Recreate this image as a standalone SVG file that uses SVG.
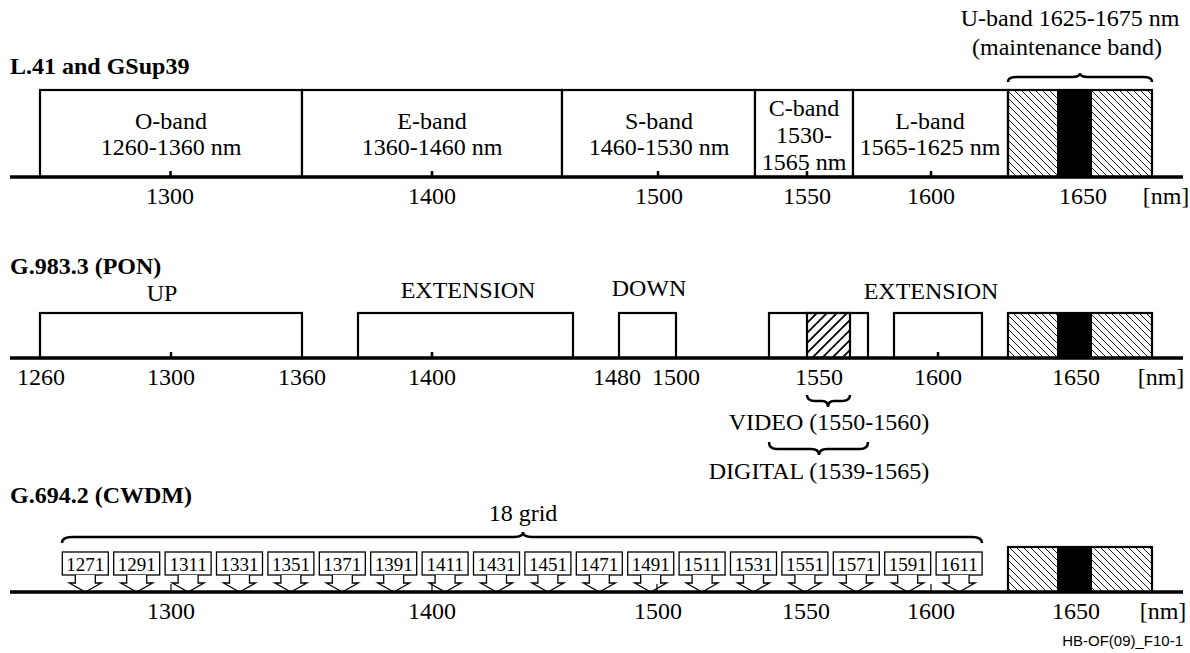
<svg xmlns="http://www.w3.org/2000/svg" width="1190" height="653" viewBox="0 0 1190 653">
<style>
.t{font-family:"Liberation Serif","Times New Roman",serif;font-size:24px;fill:#000;text-anchor:middle}
.b{font-family:"Liberation Serif","Times New Roman",serif;font-size:24px;font-weight:bold;fill:#000}
.s{font-family:"Liberation Serif","Times New Roman",serif;font-size:19px;fill:#000;text-anchor:middle}
.f{font-family:"Liberation Sans",Arial,sans-serif;font-size:15px;fill:#000;text-anchor:end}
.box{fill:#fff;stroke:#000;stroke-width:2.2}
.hu{fill:url(#hU);stroke:#000;stroke-width:2.2}
.hv{fill:url(#hV);stroke:#000;stroke-width:2.2}
.blk{fill:#000}
.ax{stroke:#000;stroke-width:3.5;fill:none}
.tk{stroke:#000;stroke-width:2.5}
.tk2{stroke:#000;stroke-width:1.2}
.br{fill:none;stroke:#000;stroke-width:2.5}
.cw{fill:#fff;stroke:#000;stroke-width:1.3}
</style>
<defs>
<pattern id="hU" patternUnits="userSpaceOnUse" width="7" height="7"><path d="M-1,-1 L8,8 M-1,6 L1,8 M6,-1 L8,1" stroke="#000" stroke-width="0.9"/></pattern>
<pattern id="hV" patternUnits="userSpaceOnUse" width="10" height="10"><path d="M-1,11 L11,-1 M-1,1 L1,-1 M9,11 L11,9" stroke="#000" stroke-width="1.8"/></pattern>
<path id="arr" class="cw" d="M-10,0 V8 H-16 L0,17 L16,8 H10 V0"/>
</defs>

<!-- Section 1 -->
<text class="b" x="10" y="74">L.41 and GSup39</text>
<g id="oband"><rect class="box" x="40" y="90" width="262" height="87"/><text class="t" x="171" y="129">O-band</text><text class="t" x="171" y="155">1260-1360 nm</text></g>
<g id="eband"><rect class="box" x="302" y="90" width="260" height="87"/><text class="t" x="432" y="129">E-band</text><text class="t" x="432" y="155">1360-1460 nm</text></g>
<g id="sband"><rect class="box" x="562" y="90" width="193" height="87"/><text class="t" x="659" y="129">S-band</text><text class="t" x="659" y="155">1460-1530 nm</text></g>
<g id="cband"><rect class="box" x="755" y="90" width="98" height="87"/><text class="t" x="804" y="116">C-band</text><text class="t" x="804" y="143">1530-</text><text class="t" x="804" y="170">1565 nm</text></g>
<g id="lband"><rect class="box" x="853" y="90" width="155" height="87"/><text class="t" x="930" y="129">L-band</text><text class="t" x="930" y="155">1565-1625 nm</text></g>
<g id="uband1"><rect class="hu" x="1008" y="90" width="144" height="87"/><rect class="blk" x="1057" y="90" width="35" height="87"/>
<text class="t" x="1070" y="26">U-band 1625-1675 nm</text><text class="t" x="1067" y="55">(maintenance band)</text></g>

<!-- Section 2 -->
<text class="b" x="10" y="274">G.983.3 (PON)</text>
<g id="up"><rect class="box" x="40" y="313" width="262" height="45"/><text class="t" x="162" y="301">UP</text></g>
<g id="ext1"><rect class="box" x="358" y="313" width="215" height="45"/><text class="t" x="468" y="298">EXTENSION</text></g>
<g id="down"><rect class="box" x="619" y="313" width="57" height="45"/><text class="t" x="649" y="296">DOWN</text></g>
<g id="digital"><rect class="box" x="769" y="313" width="99" height="45"/></g>
<g id="video"><rect class="hv" x="807" y="313" width="43" height="45"/></g>
<g id="ext2"><rect class="box" x="894" y="313" width="88" height="45"/><text class="t" x="931" y="299">EXTENSION</text></g>
<g id="uband2"><rect class="hu" x="1008" y="313" width="144" height="45"/><rect class="blk" x="1057" y="313" width="35" height="45"/></g>
<g id="videolabel"><text class="t" x="829" y="430">VIDEO (1550-1560)</text></g>
<g id="digitallabel"><text class="t" x="819" y="479">DIGITAL (1539-1565)</text></g>

<!-- Section 3 -->
<text class="b" x="10" y="503">G.694.2 (CWDM)</text>
<g id="gridlabel"><text class="t" x="523" y="521">18 grid</text></g>
<g id="cwdm">
<g id="c1271"><rect class="cw" x="62.3" y="552" width="46" height="23"/><use href="#arr" x="85.3" y="575"/><text class="s" x="85.3" y="571">1271</text></g>
<g id="c1291"><rect class="cw" x="113.7" y="552" width="46" height="23"/><use href="#arr" x="136.7" y="575"/><text class="s" x="136.7" y="571">1291</text></g>
<g id="c1311"><rect class="cw" x="165.1" y="552" width="46" height="23"/><use href="#arr" x="188.1" y="575"/><text class="s" x="188.1" y="571">1311</text></g>
<g id="c1331"><rect class="cw" x="216.5" y="552" width="46" height="23"/><use href="#arr" x="239.5" y="575"/><text class="s" x="239.5" y="571">1331</text></g>
<g id="c1351"><rect class="cw" x="267.9" y="552" width="46" height="23"/><use href="#arr" x="290.9" y="575"/><text class="s" x="290.9" y="571">1351</text></g>
<g id="c1371"><rect class="cw" x="319.3" y="552" width="46" height="23"/><use href="#arr" x="342.3" y="575"/><text class="s" x="342.3" y="571">1371</text></g>
<g id="c1391"><rect class="cw" x="370.7" y="552" width="46" height="23"/><use href="#arr" x="393.7" y="575"/><text class="s" x="393.7" y="571">1391</text></g>
<g id="c1411"><rect class="cw" x="422.1" y="552" width="46" height="23"/><use href="#arr" x="445.1" y="575"/><text class="s" x="445.1" y="571">1411</text></g>
<g id="c1431"><rect class="cw" x="473.5" y="552" width="46" height="23"/><use href="#arr" x="496.5" y="575"/><text class="s" x="496.5" y="571">1431</text></g>
<g id="c1451"><rect class="cw" x="524.9" y="552" width="46" height="23"/><use href="#arr" x="547.9" y="575"/><text class="s" x="547.9" y="571">1451</text></g>
<g id="c1471"><rect class="cw" x="576.3" y="552" width="46" height="23"/><use href="#arr" x="599.3" y="575"/><text class="s" x="599.3" y="571">1471</text></g>
<g id="c1491"><rect class="cw" x="627.7" y="552" width="46" height="23"/><use href="#arr" x="650.7" y="575"/><text class="s" x="650.7" y="571">1491</text></g>
<g id="c1511"><rect class="cw" x="679.1" y="552" width="46" height="23"/><use href="#arr" x="702.1" y="575"/><text class="s" x="702.1" y="571">1511</text></g>
<g id="c1531"><rect class="cw" x="730.5" y="552" width="46" height="23"/><use href="#arr" x="753.5" y="575"/><text class="s" x="753.5" y="571">1531</text></g>
<g id="c1551"><rect class="cw" x="781.9" y="552" width="46" height="23"/><use href="#arr" x="804.9" y="575"/><text class="s" x="804.9" y="571">1551</text></g>
<g id="c1571"><rect class="cw" x="833.3" y="552" width="46" height="23"/><use href="#arr" x="856.3" y="575"/><text class="s" x="856.3" y="571">1571</text></g>
<g id="c1591"><rect class="cw" x="884.7" y="552" width="46" height="23"/><use href="#arr" x="907.7" y="575"/><text class="s" x="907.7" y="571">1591</text></g>
<g id="c1611"><rect class="cw" x="936.1" y="552" width="46" height="23"/><use href="#arr" x="959.1" y="575"/><text class="s" x="959.1" y="571">1611</text></g>
</g>
<g id="uband3"><rect class="hu" x="1008" y="547" width="144" height="45"/><rect class="blk" x="1057" y="547" width="35" height="45"/></g>

<!-- Connectors: axes, ticks, braces -->
<g id="connectors">
<line class="ax" x1="10" y1="177" x2="1183" y2="177"/>
<line class="tk" x1="170.5" y1="171" x2="170.5" y2="177"/>
<line class="tk" x1="432" y1="171" x2="432" y2="177"/>
<line class="tk" x1="658" y1="171" x2="658" y2="177"/>
<line class="tk" x1="807" y1="171" x2="807" y2="177"/>
<line class="tk" x1="931" y1="171" x2="931" y2="177"/>

<line class="ax" x1="10" y1="358" x2="1183" y2="358"/>
<line class="tk" x1="171" y1="352" x2="171" y2="358"/>
<line class="tk" x1="432" y1="352" x2="432" y2="358"/>
<line class="tk" x1="938" y1="352" x2="938" y2="358"/>

<line class="ax" x1="10" y1="592" x2="1183" y2="592"/>
<line class="tk2" x1="171" y1="584" x2="171" y2="592"/>
<line class="tk2" x1="432" y1="584" x2="432" y2="592"/>
<line class="tk2" x1="657" y1="584" x2="657" y2="592"/>
<line class="tk2" x1="931" y1="584" x2="931" y2="592"/>

<path class="br" d="M1008,82 Q1008,77 1016,77 L1072,77 Q1080,77 1080,73 Q1080,77 1088,77 L1144,77 Q1152,77 1152,82"/>
<path class="br" d="M807,395 Q807,401 815,401 L822,401 Q828,401 828,407 Q828,401 834,401 L842,401 Q850,401 850,395"/>
<path class="br" d="M769,442 Q769,449 777,449 L811,449 Q819,449 819,455 Q819,449 827,449 L860,449 Q868,449 868,442"/>
<path class="br" d="M62,543 Q62,537 72,537 L514,537 Q523,537 523,532 Q523,537 532,537 L972,537 Q982,537 982,543"/>
</g>

<!-- Axis labels -->
<g id="labels1">
<text class="t" x="170" y="204">1300</text><text class="t" x="432" y="204">1400</text><text class="t" x="659" y="204">1500</text><text class="t" x="807" y="204">1550</text><text class="t" x="931" y="204">1600</text><text class="t" x="1083" y="204">1650</text><text class="t" x="1166" y="204">[nm]</text>
</g>
<g id="labels2">
<text class="t" x="41" y="385">1260</text><text class="t" x="171" y="385">1300</text><text class="t" x="302" y="385">1360</text><text class="t" x="432" y="385">1400</text><text class="t" x="617" y="385">1480</text><text class="t" x="676" y="385">1500</text><text class="t" x="819" y="385">1550</text><text class="t" x="938" y="385">1600</text><text class="t" x="1076" y="385">1650</text><text class="t" x="1161" y="385">[nm]</text>
</g>
<g id="labels3">
<text class="t" x="171" y="619">1300</text><text class="t" x="432" y="619">1400</text><text class="t" x="658" y="619">1500</text><text class="t" x="806" y="619">1550</text><text class="t" x="931" y="619">1600</text><text class="t" x="1076" y="619">1650</text><text class="t" x="1163" y="619">[nm]</text>
</g>
<text class="f" x="1183" y="646">HB-OF(09)_F10-1</text>
</svg>
